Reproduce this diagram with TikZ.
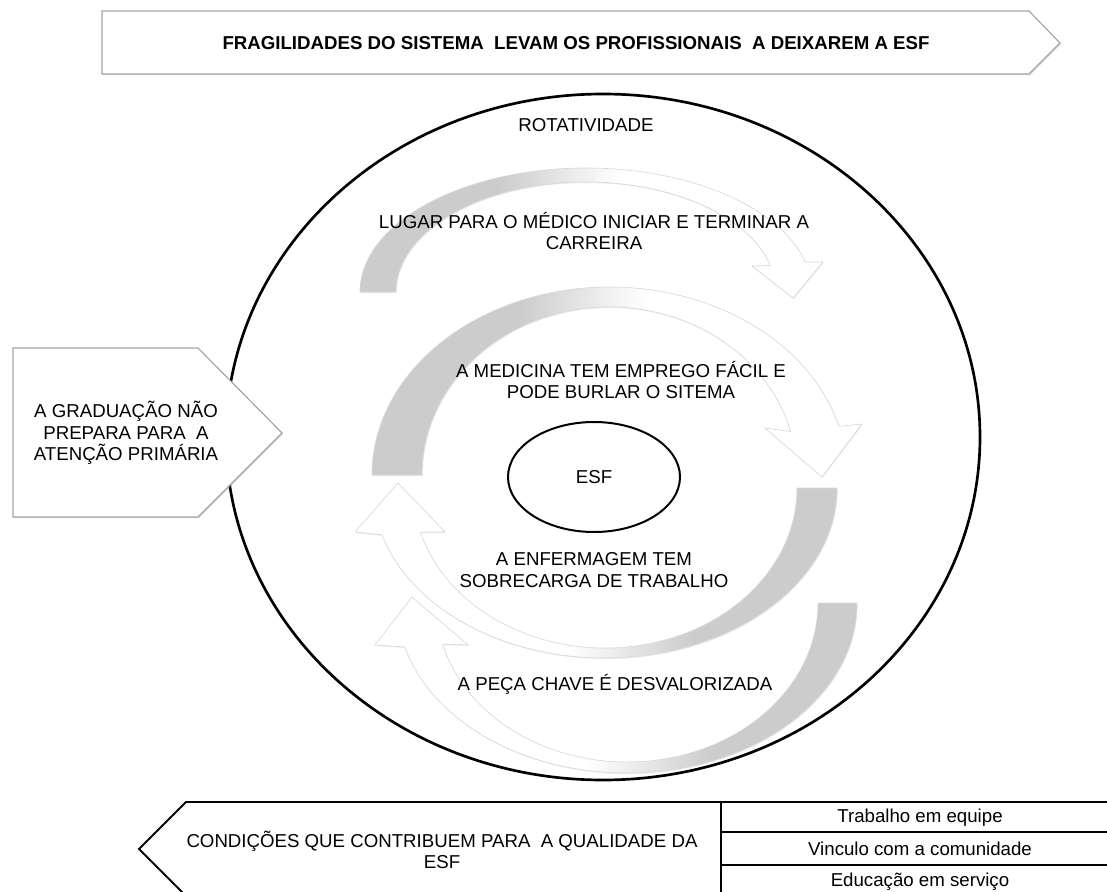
\documentclass[tikz,border=0pt]{standalone}
\usepackage{fontspec}
\setmainfont{Liberation Sans}
\usetikzlibrary{shapes.geometric,shadows}
\pgfdeclarehorizontalshading{bandfade}{100bp}{color(0bp)=(gray!40); color(40bp)=(gray!40); color(53bp)=(white); color(100bp)=(white)}

\begin{document}
\begin{tikzpicture}
  [
    x=0.75pt, y=-0.75pt,
    every node/.style={font=\fontsize{14}{16.1}\selectfont, align=center},
    Banner/.style={draw=gray!70, fill=white, line width=0.9pt,
      drop shadow={shadow xshift=0.8pt, shadow yshift=-0.8pt, opacity=0.3}},
    Band/.style={shading=bandfade, draw=gray!30, line width=0.5pt,
      drop shadow={shadow xshift=0.5pt, shadow yshift=-0.8pt, opacity=0.15}},
    BandBack/.style={Band, shading angle=180},
    Outline/.style={draw=black, line width=2pt},
    Grid/.style={draw=black, line width=1.4pt}
  ]
  \useasboundingbox (0,0) rectangle (1107,892);
  % Banner
  \draw[Banner] (102,11) -- (1029,11) -- (1060,43) -- (1029,74) -- (102,74) -- cycle;
  \node[font=\fontsize{14}{16.1}\selectfont\bfseries] (title) at (576,43)
    {FRAGILIDADES DO SISTEMA\ \ LEVAM OS PROFISSIONAIS\ \ A DEIXAREM A ESF};
  % Circle
  \draw[Outline] (603,437) ellipse [x radius=377, y radius=343];
  % Bands
  \path[Band] (360,292)
    arc[start angle=180, end angle=346, x radius=226, y radius=124]
    -- (823,262) -- (793,298) -- (752,266)
    -- ({586+190*cos(346)},{292+110*sin(346)})
    arc[start angle=346, end angle=180, x radius=190, y radius=110] -- cycle;
  \path[Band] (372,475)
    arc[start angle=180, end angle=345, x radius=237.5, y radius=188]
    -- (862,424) -- (822,477) -- (765,428)
    -- ({609.5+187.5*cos(345)},{475+168*sin(345)})
    arc[start angle=345, end angle=180, x radius=187.5, y radius=168] -- cycle;
  \path[BandBack] (837,488)
    arc[start angle=0, end angle=164, x radius=232, y radius=170]
    -- (355,532) -- (398,483) -- (445,532)
    -- ({605+192*cos(164)},{488+160*sin(164)})
    arc[start angle=164, end angle=0, x radius=192, y radius=160] -- cycle;
  \path[BandBack] (857,603)
    arc[start angle=0, end angle=165, x radius=230, y radius=170]
    -- (375,645) -- (412,597) -- (468,645)
    -- ({627+191*cos(165)},{603+159*sin(165)})
    arc[start angle=165, end angle=0, x radius=191, y radius=159] -- cycle;
  % Nodes
  \node[ellipse, draw, line width=1.5pt, minimum width=129pt, minimum height=82.5pt] (esf) at (594,477) {ESF};
  \node (rot) at (586,125) {ROTATIVIDADE};
  \node (lugar) at (594,231) {LUGAR PARA O MÉDICO INICIAR E TERMINAR A\\CARREIRA};
  \node (med) at (621,380) {A MEDICINA TEM EMPREGO FÁCIL E\\PODE BURLAR O SITEMA};
  \node (enf) at (594,570) {A ENFERMAGEM TEM\\SOBRECARGA DE TRABALHO};
  \node (peca) at (615,684) {A PEÇA CHAVE É DESVALORIZADA};
  % Left arrow
  \draw[Banner] (13,348) -- (198,348) -- (282,433) -- (198,517) -- (13,517) -- cycle;
  \node (grad) at (126,433) {A GRADUAÇÃO NÃO\\PREPARA PARA\ \ A\\ATENÇÃO PRIMÁRIA};
  % Bottom
  \draw[Grid, fill=white] (1110,802) -- (186,802) -- (139,849) -- (186,896) -- (1110,896);
  \draw[Grid] (721,802) -- (721,896);
  \draw[Grid] (721,832) -- (1110,832);
  \draw[Grid] (721,865) -- (1110,865);
  \node (cond) at (442,850) {CONDIÇÕES QUE CONTRIBUEM PARA\ \ A QUALIDADE DA\\ESF};
  \node (equipe) at (920,818) {Trabalho em equipe};
  \node (vinculo) at (920,849) {Vinculo com a comunidade};
  \node (educ) at (920,882) {Educação em serviço};
\end{tikzpicture}
\end{document}
